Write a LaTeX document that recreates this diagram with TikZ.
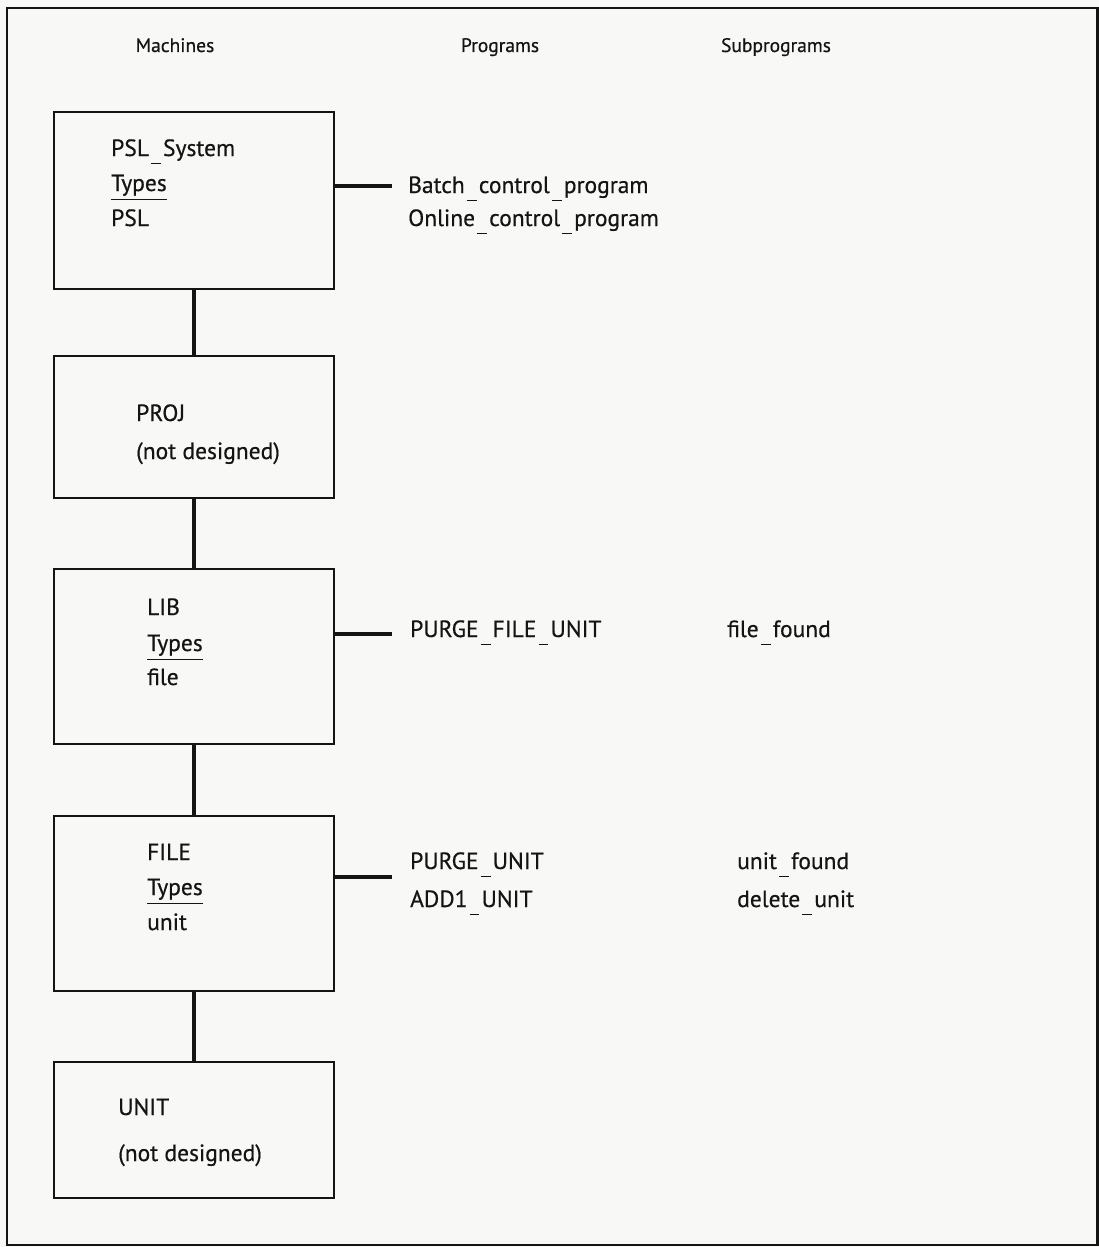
\documentclass[tikz,border=0pt]{standalone}
\usepackage{fontspec}
\setmainfont{PT Sans}
\newfontface\inkface{PT Sans}[FakeBold=0.5]
\usetikzlibrary{calc}

% low underscore mark between words
\newcommand\us{\makebox[0.6em]{\rule[-0.36em]{0.42em}{1.3pt}}}
% underline set below the descenders
\newcommand\ulword[1]{\setbox0\hbox{#1}\rlap{\rule[-0.40em]{\wd0}{1.3pt}}\box0}

\definecolor{ink}{HTML}{141414}
\definecolor{paper}{HTML}{F8F8F6}
\tikzset{
  machine/.style={draw=ink, line width=2.6pt, rectangle, inner sep=0pt},
  txt/.style={anchor=base west, inner sep=0pt, text=ink, font=\inkface\fontsize{23.5}{28}\selectfont},
  head/.style={anchor=base, inner sep=0pt, text=ink, font=\inkface\fontsize{19.5}{23}\selectfont},
  link/.style={draw=ink, line width=4.2pt},
}

\begin{document}
\begin{tikzpicture}[x=1pt, y=-1pt]
  \fill[paper] (0,0) rectangle (1099,1247);
  \useasboundingbox (0,0) rectangle (1099,1247);
  \draw[ink, line width=2.4pt] (7,8) rectangle (1097.5,1245);

  % column headings
  \node[head] (hm) at (175,52) {Machines};
  \node[head] (hp) at (500,52) {Programs};
  \node[head] (hs) at (776,52) {Subprograms};

  % machine boxes
  \node[machine, minimum width=280pt, minimum height=177pt] (b1) at (194,200.5) {};
  \node[machine, minimum width=280pt, minimum height=142pt] (b2) at (194,427) {};
  \node[machine, minimum width=280pt, minimum height=175pt] (b3) at (194,656.5) {};
  \node[machine, minimum width=280pt, minimum height=175pt] (b4) at (194,903.5) {};
  \node[machine, minimum width=280pt, minimum height=136pt] (b5) at (194,1130) {};

  % box contents
  \node[txt] (t1a) at (111,156) {PSL\us System};
  \node[txt] (t1b) at (111,191) {\ulword{Types}};
  \node[txt] (t1c) at (111,226) {PSL};
  \node[txt] (t2a) at (136,421) {PROJ};
  \node[txt] (t2b) at (136,459) {(not designed)};
  \node[txt] (t3a) at (147,615) {LIB};
  \node[txt] (t3b) at (147,651) {\ulword{Types}};
  \node[txt] (t3c) at (147,685) {file};
  \node[txt] (t4a) at (147,860) {FILE};
  \node[txt] (t4b) at (147,895) {\ulword{Types}};
  \node[txt] (t4c) at (147,930) {unit};
  \node[txt] (t5a) at (118,1115) {UNIT};
  \node[txt] (t5b) at (118,1161) {(not designed)};

  % programs and subprograms
  \node[txt] (p1) at (408,193) {Batch\us control\us program};
  \node[txt] (p2) at (408,226) {Online\us control\us program};
  \node[txt] (p3) at (410,637) {PURGE\us FILE\us UNIT};
  \node[txt] (s3) at (727,637) {file\us found};
  \node[txt] (p4) at (410,869) {PURGE\us UNIT};
  \node[txt] (p5) at (410,907) {ADD1\us UNIT};
  \node[txt] (s4) at (737,869) {unit\us found};
  \node[txt] (s5) at (737,907) {delete\us unit};

  % hierarchy links
  \draw[link] (b1.south) -- (b2.north);
  \draw[link] (b2.south) -- (b3.north);
  \draw[link] (b3.south) -- (b4.north);
  \draw[link] (b4.south) -- (b5.north);

  % program stubs
  \coordinate (e1) at (392,186);
  \coordinate (e3) at (392,634);
  \coordinate (e4) at (392,877);
  \draw[link] (b1.east |- e1) -- (e1);
  \draw[link] (b3.east |- e3) -- (e3);
  \draw[link] (b4.east |- e4) -- (e4);
\end{tikzpicture}
\end{document}
